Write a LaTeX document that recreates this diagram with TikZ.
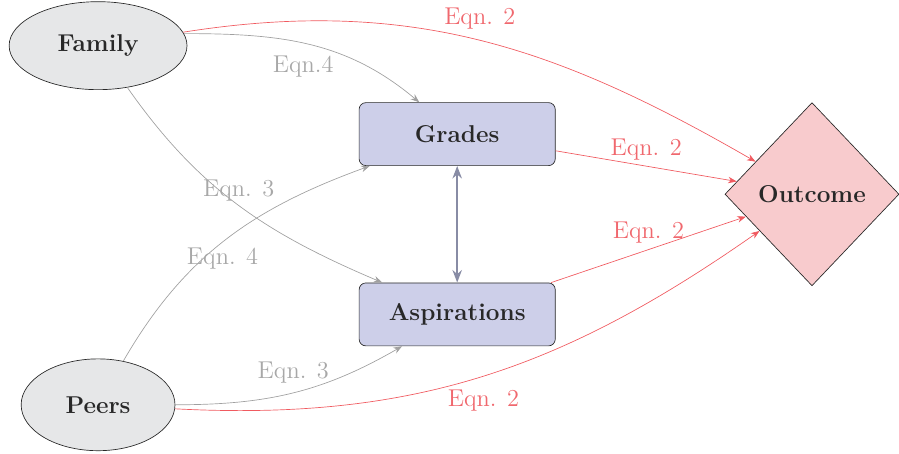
\documentclass[tikz,border=0pt]{standalone}
\usepackage{amsmath}
\usepackage{tikz}
\usepackage{xcolor}
\usetikzlibrary{arrows.meta,positioning,shapes.geometric}
\definecolor{NodeGray}{RGB}{230,231,232}
\definecolor{BoxLavender}{RGB}{205,207,233}
\definecolor{OutcomePink}{RGB}{248,203,205}
\definecolor{EdgeRed}{RGB}{240,90,96}
\definecolor{LabelRed}{RGB}{240,104,110}
\definecolor{EdgeGray}{RGB}{160,160,160}
\definecolor{LabelGray}{RGB}{168,168,168}
\definecolor{LinkSlate}{RGB}{136,140,165}
\definecolor{InkDark}{RGB}{40,40,40}

\begin{document}
\begin{tikzpicture}[every node/.style={font=\Large}]
\useasboundingbox (0,0) rectangle (18.7,9.44);
\node[draw=InkDark, ellipse, fill=NodeGray, text=InkDark, font=\Large\bfseries, minimum width=3.7cm, minimum height=1.83cm] (family) at (2.04,8.49) {Family};
\node[draw=InkDark, ellipse, fill=NodeGray, text=InkDark, font=\Large\bfseries, minimum width=3.2cm, minimum height=1.91cm] (peers) at (2.04,1.02) {Peers};
\node[draw=InkDark, rounded corners, fill=BoxLavender, text=InkDark, font=\Large\bfseries, minimum width=4.08cm, minimum height=1.31cm] (grades) at (9.51,6.65) {Grades};
\node[draw=InkDark, rounded corners, fill=BoxLavender, text=InkDark, font=\Large\bfseries, minimum width=4.08cm, minimum height=1.31cm] (aspirations) at (9.51,2.90) {Aspirations};
\node[draw=InkDark, diamond, inner sep=0pt, fill=OutcomePink, text=InkDark, font=\Large\bfseries, minimum width=3.62cm, minimum height=3.81cm] (outcome) at (16.89,5.40) {Outcome};
\draw[-{Stealth[length=1.8mm]}, EdgeRed] (family) to[out=9, in=150] node[pos=0.5, above=3pt, LabelRed] {Eqn. 2} (outcome);
\draw[-{Stealth[length=1.8mm]}, EdgeGray] (family.8) to[out=0, in=140] node[pos=0.47, below=4pt, LabelGray] {Eqn.4} (grades);
\draw[-{Stealth[length=1.8mm]}, EdgeGray] (family) to[out=-55, in=157] node[pos=0.42, xshift=0.4cm, LabelGray] {Eqn. 3} (aspirations);
\draw[-{Stealth[length=1.8mm]}, EdgeGray] (peers) to[out=60, in=200] node[pos=0.4, xshift=0.4cm, LabelGray] {Eqn. 4} (grades);
\draw[-{Stealth[length=1.8mm]}, EdgeGray] (peers) to[out=0, in=210] node[pos=0.5, above=2pt, LabelGray] {Eqn. 3} (aspirations);
\draw[-{Stealth[length=1.8mm]}, EdgeRed] (peers) to[out=-3, in=215] node[pos=0.5, below=5pt, LabelRed] {Eqn. 2} (outcome);
\draw[-{Stealth[length=1.8mm]}, EdgeRed] (grades) -- node[pos=0.5, above, LabelRed] {Eqn. 2} (outcome);
\draw[-{Stealth[length=1.8mm]}, EdgeRed] (aspirations) -- node[pos=0.5, above, LabelRed] {Eqn. 2} (outcome);
\draw[{Stealth[length=2.6mm]}-{Stealth[length=2.6mm]}, very thick, LinkSlate] (grades) -- (aspirations);
\end{tikzpicture}
\end{document}
